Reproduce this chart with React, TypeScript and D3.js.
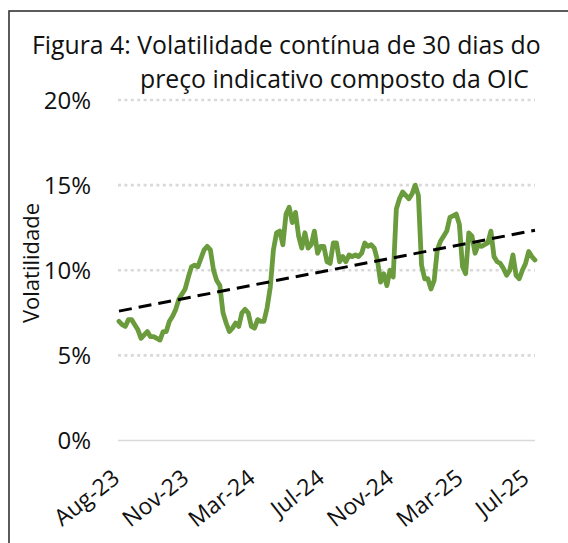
import * as d3 from "d3";

// volatilidade (%) – leitura ponto a ponto do gráfico
const volatility = [
  7.0, 6.8, 6.7, 7.1, 7.1, 6.8, 6.5, 6.0, 6.2, 6.4,
  6.1, 6.1, 6.0, 5.9, 6.4, 6.4, 7.0, 7.3, 7.7, 8.3,
  8.6, 8.9, 9.6, 10.2, 10.3, 10.2, 10.7, 11.2, 11.4, 11.2,
  10.0, 9.4, 9.1, 7.5, 6.9, 6.4, 6.6, 6.9, 6.7, 7.5,
  7.7, 7.5, 6.7, 6.6, 7.1, 7.0, 7.0, 7.8, 9.0, 11.2,
  12.2, 12.3, 11.5, 13.3, 13.7, 12.8, 13.4, 12.0, 11.3, 12.2,
  11.3, 11.5, 12.3, 11.0, 11.4, 11.4, 10.5, 10.4, 11.6, 11.6,
  10.5, 10.8, 10.5, 10.9, 10.8, 10.9, 10.8, 11.0, 11.6, 11.4,
  11.5, 11.3, 10.6, 9.3, 9.8, 9.1, 10.0, 9.6, 13.6, 14.2,
  14.6, 14.4, 14.2, 14.5, 15.0, 14.4, 10.3, 9.5, 9.5, 8.9,
  9.4, 11.2, 11.7, 12.0, 12.3, 13.1, 13.2, 13.3, 12.7, 10.2,
  9.8, 12.2, 12.0, 11.0, 11.5, 11.4, 11.5, 11.6, 12.3, 10.8,
  10.5, 10.4, 10.1, 9.7, 10.0, 10.9, 9.7, 9.5, 10.0, 10.4,
  11.1, 10.8, 10.6,
];

const tickLabels = ["Aug-23", "Nov-23", "Mar-24", "Jul-24", "Nov-24", "Mar-25", "Jul-25"];
const tickIndex = [0, 22, 43, 65, 87, 109, 130];
const yTicks = [0, 5, 10, 15, 20];
// linha de tendência (início, fim)
const trendEnds = [7.6, 12.35];

const FONT = "'Open Sans', 'Noto Sans', sans-serif";

const Chart = () => {
  const width = 568;
  const height = 543;

  const x = d3.scaleLinear().domain([0, volatility.length - 1]).range([119, 535]);
  const y = d3.scaleLinear().domain([0, 20]).range([440.5, 100]);

  const line = d3
    .line<number>()
    .x((_, i) => x(i))
    .y((d) => y(d));

  const trend = d3
    .line<number>()
    .x((_, i) => x(i * (volatility.length - 1)))
    .y((d) => y(d));

  return (
    <svg width={width} height={height} style={{ display: "block", background: "#fff" }}>
      {/* moldura */}
      <rect x={9} y={11} width={700} height={700} fill="none" stroke="#333" strokeWidth={1.6} />

      {/* título */}
      <text x={32} y={54} fontFamily={FONT} fontSize={24.8} fill="#111">
        Figura 4: Volatilidade contínua de 30 dias do
      </text>
      <text x={140} y={88} fontFamily={FONT} fontSize={24.8} fill="#111">
        preço indicativo composto da OIC
      </text>

      {/* grelha */}
      {yTicks.map((t) => (
        <line
          key={t}
          x1={118}
          x2={535}
          y1={y(t)}
          y2={y(t)}
          stroke="#d9d9d9"
          strokeWidth={t === 0 ? 1.5 : 2.6}
          strokeDasharray={t === 0 ? undefined : "3 3.4"}
        />
      ))}

      {/* rótulos do eixo y */}
      {yTicks.map((t) => (
        <text
          key={t}
          x={91}
          y={y(t) + 8.5}
          textAnchor="end"
          fontFamily={FONT}
          fontSize={24}
          fill="#111"
        >
          {t}%
        </text>
      ))}

      <text
        transform={`translate(39,263) rotate(-90)`}
        textAnchor="middle"
        fontFamily={FONT}
        fontSize={22}
        fill="#111"
      >
        Volatilidade
      </text>

      {/* série */}
      <path
        d={line(volatility) ?? ""}
        fill="none"
        stroke="#6A9B3C"
        strokeWidth={4.8}
        strokeLinejoin="round"
        strokeLinecap="round"
      />

      {/* tendência */}
      <path
        d={trend(trendEnds) ?? ""}
        fill="none"
        stroke="#000"
        strokeWidth={3}
        strokeDasharray="13 7"
      />

      {/* rótulos do eixo x */}
      {tickLabels.map((lab, i) => (
        <text
          key={lab}
          transform={`translate(${x(tickIndex[i]) + 2},${481}) rotate(-38)`}
          textAnchor="end"
          fontFamily={FONT}
          fontSize={23}
          fill="#111"
        >
          {lab}
        </text>
      ))}
    </svg>
  );
};

export default function App() {
  return (
    <>
      <style>{"body{margin:0}"}</style>
      <Chart />
    </>
  );
}
